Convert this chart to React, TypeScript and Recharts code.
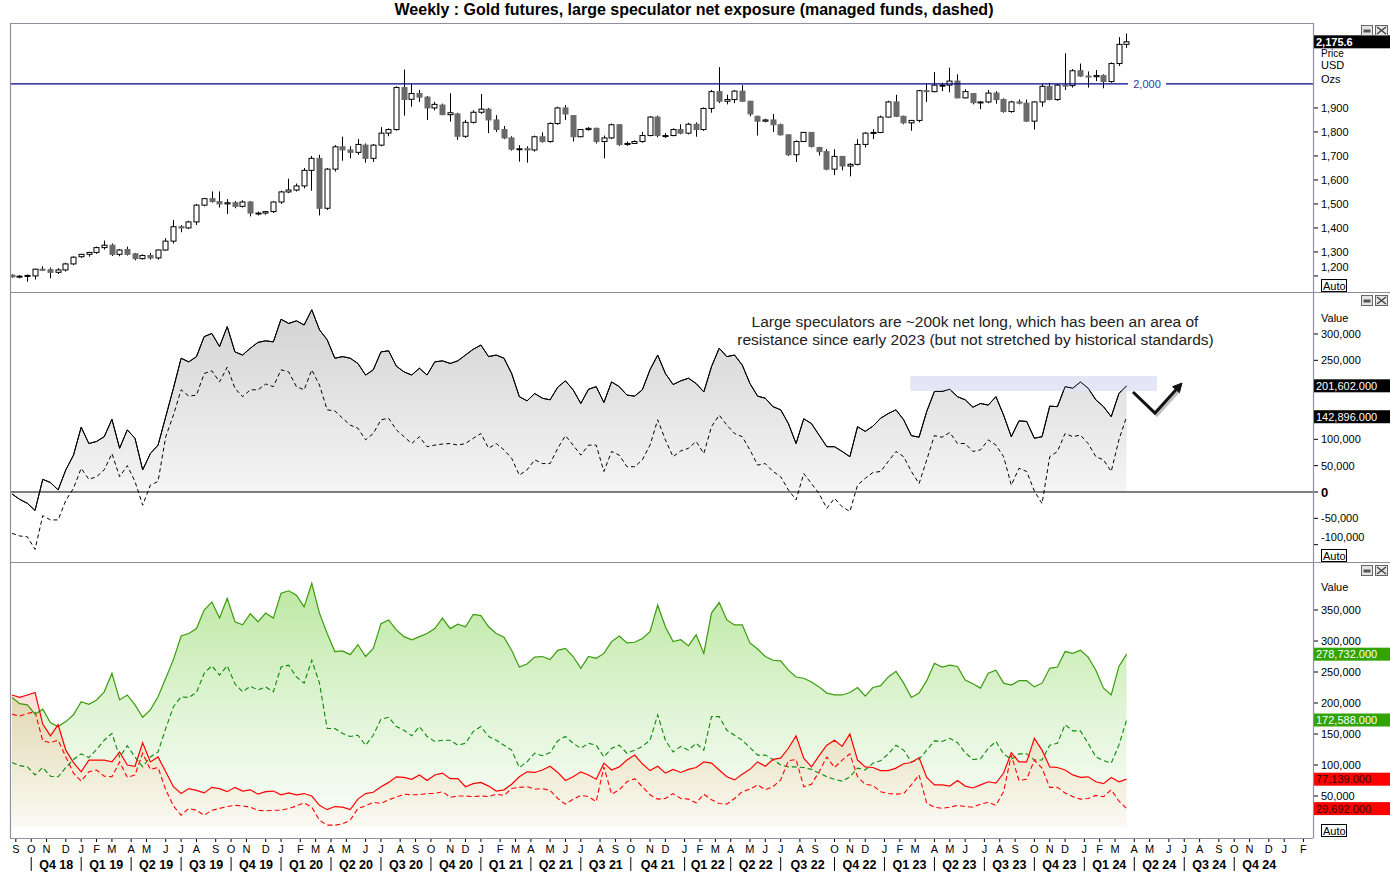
import React from 'react'
import {
  ComposedChart,
  Area,
  Line,
  Bar,
  XAxis,
  YAxis,
  ReferenceLine,
  ReferenceArea,
} from 'recharts'

const FONT = '"Liberation Sans", Arial, sans-serif'

// weekly COT bars, every 2nd week kept; bar 0 = Fri 31 Aug 2018
const STEP_WEEKS = 2

// gold futures, USD/oz (2-week candles)
const priceOpen = [
  1203, 1196, 1199, 1200, 1228, 1226, 1215, 1225, 1250, 1280,
  1290, 1298, 1318, 1328, 1290, 1310, 1292, 1272, 1285, 1275,
  1308, 1345, 1405, 1400, 1425, 1495, 1522, 1510, 1500, 1505,
  1490, 1508, 1462, 1462, 1468, 1508, 1550, 1558, 1575, 1640,
  1690, 1482, 1645, 1738, 1725, 1715, 1745, 1690, 1745, 1795,
  1810, 1985, 1936, 1960, 1945, 1900, 1912, 1872, 1875, 1782,
  1840, 1882, 1895, 1850, 1810, 1775, 1728, 1730, 1725, 1780,
  1760, 1835, 1900, 1868, 1780, 1810, 1815, 1760, 1775, 1830,
  1748, 1752, 1760, 1785, 1862, 1785, 1785, 1810, 1795, 1832,
  1810, 1898, 1968, 1928, 1935, 1970, 1928, 1865, 1845, 1850,
  1830, 1788, 1705, 1760, 1798, 1735, 1718, 1645, 1698, 1658,
  1665, 1748, 1795, 1798, 1862, 1925, 1865, 1838, 1848, 1972,
  1968, 1995, 1995, 2012, 1942, 1960, 1922, 1925, 1962, 1935,
  1885, 1925, 1920, 1845, 1925, 1990, 1935, 1995, 1993, 2055,
  2033, 2030, 2035, 2010, 2085, 2165,
]
const priceHigh = [
  1207, 1203, 1206, 1230, 1240, 1235, 1232, 1255, 1282, 1292,
  1300, 1322, 1347, 1335, 1312, 1322, 1296, 1290, 1296, 1310,
  1357, 1433, 1412, 1430, 1500, 1525, 1552, 1552, 1520, 1512,
  1515, 1512, 1468, 1470, 1512, 1555, 1605, 1585, 1650, 1700,
  1705, 1650, 1745, 1780, 1740, 1770, 1752, 1750, 1820, 1815,
  1990, 2060, 2000, 1975, 1950, 1925, 1918, 1961, 1880, 1850,
  1890, 1958, 1900, 1870, 1825, 1782, 1745, 1740, 1785, 1798,
  1840, 1905, 1912, 1870, 1812, 1820, 1818, 1785, 1835, 1832,
  1760, 1765, 1800, 1866, 1868, 1795, 1815, 1832, 1838, 1840,
  1902, 1975, 2070, 1955, 1975, 1995, 1930, 1868, 1855, 1875,
  1835, 1790, 1765, 1800, 1800, 1738, 1728, 1728, 1700, 1670,
  1770, 1800, 1812, 1868, 1930, 1955, 1868, 1850, 1975, 2000,
  2050, 2005, 2068, 2040, 1978, 1962, 1928, 1975, 1970, 1940,
  1930, 1935, 1935, 1928, 2000, 2005, 2000, 2128, 2062, 2085,
  2052, 2058, 2040, 2090, 2195, 2210,
]
const priceLow = [
  1193, 1190, 1176, 1185, 1220, 1190, 1208, 1218, 1245, 1275,
  1280, 1292, 1310, 1283, 1282, 1285, 1265, 1268, 1268, 1268,
  1305, 1335, 1382, 1395, 1412, 1490, 1505, 1485, 1458, 1482,
  1485, 1448, 1452, 1455, 1462, 1500, 1545, 1552, 1565, 1555,
  1452, 1475, 1635, 1680, 1690, 1705, 1672, 1675, 1740, 1782,
  1805, 1868, 1905, 1925, 1850, 1890, 1870, 1843, 1767, 1775,
  1835, 1875, 1795, 1800, 1770, 1722, 1676, 1672, 1718, 1755,
  1755, 1830, 1850, 1760, 1778, 1805, 1752, 1690, 1770, 1742,
  1742, 1750, 1755, 1782, 1778, 1775, 1782, 1790, 1790, 1780,
  1805, 1880, 1920, 1915, 1920, 1925, 1865, 1785, 1840, 1800,
  1785, 1700, 1675, 1758, 1735, 1702, 1640, 1620, 1640, 1615,
  1660, 1735, 1770, 1795, 1860, 1862, 1832, 1805, 1840, 1925,
  1965, 1970, 1965, 1940, 1940, 1915, 1895, 1920, 1918, 1880,
  1880, 1915, 1842, 1810, 1905, 1932, 1930, 1975, 1985, 2030,
  1985, 2012, 1982, 2005, 2075, 2150,
]
const priceClose = [
  1196, 1199, 1202, 1228, 1226, 1215, 1225, 1250, 1278, 1290,
  1298, 1318, 1328, 1290, 1308, 1290, 1272, 1285, 1275, 1308,
  1345, 1405, 1400, 1425, 1495, 1522, 1510, 1500, 1505, 1490,
  1508, 1462, 1462, 1468, 1508, 1550, 1558, 1575, 1640, 1690,
  1482, 1645, 1738, 1725, 1715, 1748, 1690, 1745, 1795, 1810,
  1985, 1935, 1960, 1945, 1900, 1915, 1872, 1880, 1782, 1840,
  1882, 1895, 1850, 1810, 1775, 1728, 1730, 1725, 1780, 1760,
  1835, 1900, 1875, 1780, 1810, 1815, 1760, 1775, 1830, 1748,
  1752, 1760, 1785, 1862, 1785, 1785, 1810, 1795, 1832, 1810,
  1898, 1968, 1928, 1935, 1970, 1928, 1875, 1845, 1850, 1830,
  1788, 1705, 1760, 1798, 1740, 1718, 1645, 1698, 1658, 1665,
  1748, 1795, 1798, 1862, 1925, 1865, 1838, 1848, 1972, 1968,
  1995, 1995, 2012, 1942, 1968, 1922, 1925, 1962, 1935, 1885,
  1925, 1920, 1845, 1925, 1990, 1935, 1995, 1993, 2055, 2033,
  2030, 2035, 2010, 2085, 2165, 2175.6,
]

// net exposure, thousands of contracts
const specNet = [
  -3.8, -14, -21.5, -35, 24, 18, 4, 42, 70, 123,
  92, 96, 105, 138, 83, 118, 102, 42, 73, 89,
  143, 197, 254, 247, 257, 295, 301, 276, 314, 266,
  260, 273, 284, 287, 285, 328, 320, 325, 317, 346,
  308, 289, 254, 257, 254, 244, 222, 232, 266, 268,
  239, 228, 222, 235, 222, 247, 249, 244, 249, 260,
  271, 279, 257, 260, 254, 225, 181, 173, 187, 178,
  175, 199, 211, 194, 168, 195, 200, 170, 209, 200,
  184, 182, 194, 232, 260, 225, 204, 211, 216, 206,
  190, 238, 273, 257, 260, 241, 206, 182, 178, 162,
  156, 130, 92, 139, 130, 108, 86, 86, 77, 67,
  124, 115, 125, 140, 149, 156, 137, 107, 104, 153,
  191, 191, 195, 181, 175, 161, 168, 165, 181, 146,
  105, 135, 134, 102, 105, 163, 162, 200, 197, 209,
  197, 175, 162, 143, 187, 201.602,
]
const mmNet = [
  -78.5, -83.5, -85, -109, -45, -53, -53, -16, 7, 45,
  24, 29, 42, 73, 29, 50, 20, -25, 13, 20,
  105, 146, 194, 182, 184, 225, 230, 209, 237, 197,
  181, 194, 194, 205, 200, 232, 228, 200, 194, 232,
  203, 156, 154, 140, 127, 121, 99, 111, 137, 140,
  118, 105, 92, 105, 86, 89, 91, 92, 89, 92,
  102, 111, 83, 92, 80, 64, 32, 42, 61, 54,
  54, 83, 107, 89, 70, 89, 89, 39, 77, 70,
  48, 48, 61, 89, 137, 99, 67, 78, 83, 96,
  73, 124, 146, 127, 111, 105, 80, 51, 54, 39,
  29, 4, -15, 35, 16, -3, -31, -12, -28, -37,
  13, 26, 37, 39, 58, 77, 67, 39, 16, 61,
  107, 104, 113, 92, 92, 77, 80, 99, 89, 67,
  13, 45, 39, 2, -22, 67, 77, 111, 105, 108,
  92, 67, 61, 39, 99, 142.896,
]

// longs / shorts, thousands of contracts
const specLong = [
  209, 199, 197, 182, 190, 168, 162, 170, 181, 202,
  198, 205, 218, 248, 205, 213, 197, 177, 189, 210,
  240, 270, 308, 312, 320, 350, 363, 337, 369, 331,
  326, 344, 331, 345, 337, 377, 381, 374, 355, 393,
  345, 312, 283, 284, 278, 294, 275, 288, 328, 334,
  318, 307, 302, 307, 312, 320, 337, 320, 327, 323,
  343, 341, 323, 312, 306, 285, 258, 263, 274, 275,
  270, 285, 288, 275, 256, 275, 272, 280, 299, 308,
  297, 298, 304, 315, 358, 323, 299, 302, 292, 310,
  280, 345, 362, 334, 326, 326, 297, 287, 275, 269,
  268, 253, 242, 240, 234, 226, 216, 213, 213, 217,
  225, 211, 225, 228, 242, 251, 232, 209, 216, 236,
  264, 258, 261, 259, 237, 231, 224, 248, 253, 232,
  229, 236, 236, 226, 232, 256, 258, 283, 280, 285,
  274, 253, 224, 213, 259, 278.732,
]
const mmLong = [
  104, 99, 97, 84, 96, 82, 81, 96, 109, 118,
  112, 125, 140, 151, 113, 131, 113, 97, 113, 121,
  159, 194, 210, 209, 217, 248, 260, 245, 260, 231,
  218, 227, 221, 226, 218, 258, 261, 242, 232, 269,
  232, 159, 159, 151, 146, 148, 132, 148, 174, 177,
  162, 156, 147, 162, 146, 138, 140, 140, 132, 135,
  154, 162, 146, 140, 132, 124, 96, 105, 119, 115,
  120, 139, 146, 135, 127, 135, 132, 113, 127, 132,
  119, 124, 130, 140, 181, 140, 121, 130, 124, 135,
  124, 178, 178, 156, 148, 140, 128, 116, 116, 109,
  100, 97, 97, 96, 93, 87, 81, 77, 74, 81,
  95, 92, 103, 107, 118, 132, 124, 105, 109, 124,
  139, 138, 143, 136, 120, 109, 110, 127, 138, 118,
  109, 118, 118, 108, 108, 132, 135, 165, 155, 155,
  135, 113, 107, 103, 132, 172.588,
]
const specShort = [
  213, 209, 213, 217, 166, 147, 165, 124, 104, 89,
  108, 108, 108, 105, 121, 100, 98, 136, 105, 113,
  89, 65, 54, 62, 59, 55, 64, 62, 57, 64,
  58, 60, 53, 57, 58, 52, 55, 52, 54, 50,
  35, 28, 33, 32, 28, 45, 54, 56, 65, 72,
  81, 80, 77, 84, 75, 84, 87, 78, 78, 65,
  70, 72, 66, 58, 60, 69, 81, 89, 88, 92,
  98, 88, 75, 81, 89, 84, 77, 103, 92, 97,
  108, 116, 102, 91, 98, 87, 93, 88, 93, 96,
  105, 103, 92, 81, 76, 85, 93, 105, 98, 109,
  111, 127, 147, 111, 97, 115, 132, 140, 130, 150,
  108, 97, 96, 91, 91, 95, 102, 104, 112, 80,
  68, 68, 66, 75, 66, 63, 68, 73, 71, 87,
  120, 105, 105, 143, 124, 97, 96, 92, 84, 80,
  81, 73, 70, 80, 73, 77.139,
]
const mmShort = [
  182, 179, 183, 186, 139, 136, 140, 113, 87, 74,
  89, 92, 82, 81, 105, 80, 84, 119, 93, 96,
  60, 34, 19, 30, 27, 19, 27, 30, 33, 35,
  34, 32, 27, 26, 27, 27, 30, 34, 39, 32,
  11, 3, 3, 5, 11, 30, 34, 40, 38, 44,
  48, 53, 52, 52, 54, 54, 57, 48, 50, 50,
  49, 50, 49, 53, 51, 62, 64, 65, 61, 62,
  59, 46, 37, 45, 51, 49, 41, 97, 53, 60,
  73, 78, 65, 52, 45, 46, 54, 46, 45, 39,
  53, 44, 38, 37, 46, 57, 61, 68, 60, 65,
  76, 107, 109, 65, 69, 89, 113, 96, 108, 118,
  81, 69, 67, 57, 54, 53, 54, 68, 84, 38,
  32, 30, 32, 35, 33, 32, 37, 40, 35, 57,
  116, 75, 77, 108, 95, 64, 64, 55, 49, 45,
  46, 51, 49, 60, 42, 29.692,
]

const priceTicks = [1200, 1300, 1400, 1500, 1600, 1700, 1800, 1900]
const netTicks = [-100, -50, 0, 50, 100, 250, 300]
const lsTicks = [50, 100, 150, 200, 250, 300, 350]
const monthLetters = 'SONDJFMAMJJASONDJFMAMJJASONDJFMAMJJASONDJFMAMJJASONDJFMAMJJASONDJFMAMJJASONDJF'.split('')
const quarterLabels = [
  'Q4 18', 'Q1 19', 'Q2 19', 'Q3 19', 'Q4 19', 'Q1 20', 'Q2 20', 'Q3 20', 'Q4 20',
  'Q1 21', 'Q2 21', 'Q3 21', 'Q4 21', 'Q1 22', 'Q2 22', 'Q3 22', 'Q4 22',
  'Q1 23', 'Q2 23', 'Q3 23', 'Q4 23', 'Q1 24', 'Q2 24', 'Q3 24', 'Q4 24',
]

// x axis is in weeks since the first bar
const X_DOMAIN: [number, number] = [-0.52, 338.5]
const BASE = Date.UTC(2018, 7, 31)
const WEEK = 7 * 86400000
const firstBarOfMonth = (k: number) => {
  const y = 2018 + Math.floor((8 + k) / 12)
  const m = (8 + k) % 12
  return Math.ceil((Date.UTC(y, m, 1) - BASE) / WEEK)
}
const monthTicks = monthLetters.map((_, k) => firstBarOfMonth(k))
const monthLabel = new Map(monthTicks.map((w, k) => [w, monthLetters[k]]))
// quarter k starts at month index 1 + 3k (Oct 2018 = 1)
const quarterStarts = quarterLabels.map((_, k) => firstBarOfMonth(1 + 3 * k))
const quarterCenters = quarterLabels.map((_, k) => (firstBarOfMonth(1 + 3 * k) + firstBarOfMonth(4 + 3 * k)) / 2)
const quarterLabel = new Map(quarterCenters.map((w, k) => [w, quarterLabels[k]]))

const weeks = priceOpen.map((_, i) => i * STEP_WEEKS)
const priceRows = weeks.map((w, i) => ({
  w,
  open: priceOpen[i],
  high: priceHigh[i],
  low: priceLow[i],
  close: priceClose[i],
}))
const netRows = weeks.map((w, i) => ({ w, spec: specNet[i], mm: mmNet[i] }))
const lsRows = weeks.map((w, i) => ({
  w,
  sl: specLong[i],
  ml: mmLong[i],
  ss: specShort[i],
  ms: mmShort[i],
}))

const last = (a: number[]) => a[a.length - 1]
const fmtInt = (v: number) => Math.round(v).toLocaleString('en-US')
const fmtK = (v: number) => Math.round(v * 1000).toLocaleString('en-US')
const fmtK3 = (v: number) =>
  (v * 1000).toLocaleString('en-US', { minimumFractionDigits: 3, maximumFractionDigits: 3 })

const Candle = (p: any) => {
  const { x, y, width, height, payload } = p
  if (!payload || height == null) return null
  const { open, close, high, low } = payload
  const k = height / (high - low || 1)
  const yOf = (v: number) => y + (high - v) * k
  const cx = Math.round(x + width / 2) + 0.5
  const up = close >= open
  const top = yOf(Math.max(open, close))
  const bot = yOf(Math.min(open, close))
  return (
    <g>
      <line x1={cx} x2={cx} y1={y} y2={y + height} stroke="#000" strokeWidth={1} />
      <rect
        x={cx - 2.5}
        y={top}
        width={5}
        height={Math.max(1, bot - top)}
        fill={up ? '#fff' : '#6a6a6a'}
        stroke={up ? '#000' : '#6a6a6a'}
        strokeWidth={1}
      />
    </g>
  )
}

const makeYTick = (fmt: (v: number) => string, shift: Record<number, number>) => (p: any) => {
  const { x, y, payload } = p
  const v = payload.value
  const zero = v === 0
  return (
    <g>
      <line x1={x} x2={x + 5} y1={y} y2={y} stroke="#000" />
      <text
        x={x + 8}
        y={y + (shift[v] ?? 0) + (zero ? 5 : 4)}
        fontSize={zero ? 13 : 11}
        fontWeight={zero ? 'bold' : 'normal'}
        fill="#000"
        fontFamily={FONT}
      >
        {fmt(v)}
      </text>
    </g>
  )
}

const MonthTick = (p: any) => {
  const { x, y, payload } = p
  return (
    <g>
      <line x1={x} x2={x} y1={y + 1} y2={y + 4} stroke="#000" />
      <text x={x} y={y + 15} textAnchor="middle" fontSize={11} fill="#000" fontFamily={FONT}>
        {monthLabel.get(payload.value)}
      </text>
    </g>
  )
}

const QuarterTick = (p: any) => {
  const { x, y, payload } = p
  const label = quarterLabel.get(payload.value)
  if (label) {
    return (
      <text x={x} y={y + 14} textAnchor="middle" fontSize={12.5} fontWeight="bold" fill="#000" fontFamily={FONT}>
        {label}
      </text>
    )
  }
  return <line x1={x} x2={x} y1={y + 2} y2={y + 16} stroke="#000" />
}

const valueBox = (text: string, bg: string, fg: string, bold = false) => (p: any) => {
  const vb = p.viewBox
  if (!vb) return null
  const x = vb.x + vb.width
  const y = vb.y
  return (
    <g>
      <rect x={x + 1} y={y - 6.5} width={77} height={13} fill={bg} />
      <text x={x + 3} y={y + 4} fontSize={11} fontWeight={bold ? 'bold' : 'normal'} fill={fg} fontFamily={FONT}>
        {text}
      </text>
    </g>
  )
}

const levelLabel = (p: any) => {
  const vb = p.viewBox
  if (!vb) return null
  const cx = vb.x + 1137
  return (
    <g>
      <rect x={cx - 19} y={vb.y - 7} width={38} height={14} fill="#fff" />
      <text x={cx} y={vb.y + 4} textAnchor="middle" fontSize={11} fill="#2b3a9e" fontFamily={FONT}>
        2,000
      </text>
    </g>
  )
}

const W = 1390
const AXIS_W = 77
const chartMargin = { top: 0, right: 0, bottom: 0, left: 10 }
const FRAME = '#8f8fa0'

const PanelIcons = ({ y }: { y: number }) => (
  <g>
    <rect x={1361.5} y={y + 2.5} width={11} height={10} fill="#e4e4e4" stroke="#666" />
    <rect x={1363.5} y={y + 6.5} width={7} height={3} fill="#555" />
    <rect x={1375.5} y={y + 2.5} width={12} height={10} fill="#e4e4e4" stroke="#666" />
    <line x1={1377} y1={y + 4} x2={1386} y2={y + 11} stroke="#444" strokeWidth={1.5} />
    <line x1={1386} y1={y + 4} x2={1377} y2={y + 11} stroke="#444" strokeWidth={1.5} />
  </g>
)

const AutoBox = ({ y }: { y: number }) => (
  <g>
    <rect x={1321.5} y={y + 0.5} width={25} height={12} fill="#fff" stroke="#000" />
    <text x={1323} y={y + 10.5} fontSize={11} fill="#000" fontFamily={FONT}>
      Auto
    </text>
  </g>
)

export default function App() {
  return (
    <div style={{ position: 'relative', width: W, height: 873, background: '#fff', fontFamily: FONT }}>
      <style>{'body{margin:0}'}</style>
      <svg width={0} height={0} style={{ position: 'absolute' }}>
        <defs>
          <linearGradient id="netFill" x1="0" y1="0" x2="0" y2="1">
            <stop offset="0%" stopColor="#d3d3d3" />
            <stop offset="100%" stopColor="#f8f8f8" />
          </linearGradient>
          <linearGradient id="longFill" x1="0" y1="0" x2="0" y2="1">
            <stop offset="0%" stopColor="#bde8a2" />
            <stop offset="55%" stopColor="#e2f5d8" />
            <stop offset="100%" stopColor="#fbfefb" />
          </linearGradient>
          <linearGradient id="shortFill" x1="0" y1="0" x2="0" y2="1">
            <stop offset="0%" stopColor="#ff2a00" stopOpacity={0.15} />
            <stop offset="100%" stopColor="#ff6a00" stopOpacity={0.03} />
          </linearGradient>
        </defs>
      </svg>

      {/* side labels of the right axes */}
      <svg width={W} height={873} style={{ position: 'absolute', left: 0, top: 0 }}>
        <g fontFamily={FONT} fontSize={11} fill="#000">
          <text x={1321} y={57} fontSize={10}>Price</text>
          <text x={1321} y={69}>USD</text>
          <text x={1321} y={83}>Ozs</text>
          <text x={1321} y={322}>Value</text>
          <text x={1321} y={591}>Value</text>
        </g>
      </svg>

      {/* price panel */}
      <div style={{ position: 'absolute', left: 0, top: 23 }}>
        <ComposedChart width={W} height={269} data={priceRows} margin={chartMargin}>
          <XAxis dataKey="w" type="number" domain={X_DOMAIN} allowDataOverflow ticks={weeks} hide />
          <YAxis
            orientation="right"
            width={AXIS_W}
            type="number"
            domain={[1133, 2254]}
            allowDataOverflow
            ticks={priceTicks}
            interval={0}
            tickLine={false}
            tickSize={0}
            tickMargin={0}
            axisLine={false}
            tick={makeYTick(fmtInt, { 1200: -9 })}
          />
          <ReferenceLine y={2000} stroke="#00008c" strokeWidth={1.2} label={levelLabel} />
          <Bar
            dataKey={(d: any) => [d.low, d.high]}
            barSize={5}
            shape={Candle}
            isAnimationActive={false}
          />
          <ReferenceLine
            y={last(priceClose)}
            stroke="none"
            label={valueBox(last(priceClose).toLocaleString('en-US'), '#000', '#fff', true)}
          />
        </ComposedChart>
      </div>

      {/* net exposure panel */}
      <div style={{ position: 'absolute', left: 0, top: 293 }}>
        <ComposedChart width={W} height={269} data={netRows} margin={chartMargin}>
          <XAxis dataKey="w" type="number" domain={X_DOMAIN} allowDataOverflow hide />
          <YAxis
            orientation="right"
            width={AXIS_W}
            type="number"
            domain={[-132.9, 377.8]}
            allowDataOverflow
            ticks={netTicks}
            interval={0}
            tickLine={false}
            tickSize={0}
            tickMargin={0}
            axisLine={false}
            tick={makeYTick(fmtK, { [-100]: -8 })}
          />
          <Area
            dataKey="spec"
            type="linear"
            baseValue={0}
            stroke="#000"
            strokeWidth={1}
            fill="url(#netFill)"
            fillOpacity={1}
            dot={false}
            activeDot={false}
            isAnimationActive={false}
          />
          <ReferenceArea x1={233.7} x2={297.9} y1={191.8} y2={220.2} fill="#dfe2f4" fillOpacity={0.85} stroke="none" />
          <Line
            dataKey="mm"
            type="linear"
            stroke="#000"
            strokeWidth={1}
            strokeDasharray="4 3"
            dot={false}
            activeDot={false}
            isAnimationActive={false}
          />
          <Line
            dataKey="spec"
            type="linear"
            stroke="#000"
            strokeWidth={1}
            dot={false}
            activeDot={false}
            isAnimationActive={false}
          />
          <ReferenceLine y={0} stroke="#000" strokeWidth={1} />
          <ReferenceLine y={last(specNet)} stroke="none" label={valueBox(fmtK3(last(specNet)), '#000', '#fff')} />
          <ReferenceLine y={last(mmNet)} stroke="none" label={valueBox(fmtK3(last(mmNet)), '#000', '#fff')} />
        </ComposedChart>
      </div>

      {/* longs / shorts panel with the date axis */}
      <div style={{ position: 'absolute', left: 0, top: 563 }}>
        <ComposedChart width={W} height={310} data={lsRows} margin={chartMargin}>
          <XAxis
            dataKey="w"
            type="number"
            domain={X_DOMAIN}
            allowDataOverflow
            ticks={monthTicks}
            interval={0}
            height={17}
            axisLine={false}
            tickLine={false}
            tickSize={0}
            tickMargin={0}
            tick={MonthTick}
          />
          <XAxis
            xAxisId="q"
            dataKey="w"
            type="number"
            domain={X_DOMAIN}
            allowDataOverflow
            ticks={[...quarterStarts, ...quarterCenters]}
            interval={0}
            height={18}
            axisLine={false}
            tickLine={false}
            tickSize={0}
            tickMargin={0}
            tick={QuarterTick}
          />
          <YAxis
            orientation="right"
            width={AXIS_W}
            type="number"
            domain={[-17.7, 425.8]}
            allowDataOverflow
            ticks={lsTicks}
            interval={0}
            tickLine={false}
            tickSize={0}
            tickMargin={0}
            axisLine={false}
            tick={makeYTick(fmtK, {})}
          />
          <Area
            dataKey="sl"
            type="linear"
            baseValue={0}
            stroke="none"
            fill="url(#longFill)"
            fillOpacity={1}
            dot={false}
            activeDot={false}
            isAnimationActive={false}
          />
          <Area
            dataKey="ss"
            type="linear"
            baseValue={0}
            stroke="none"
            fill="url(#shortFill)"
            fillOpacity={1}
            dot={false}
            activeDot={false}
            isAnimationActive={false}
          />
          <Line dataKey="ml" type="linear" stroke="#0a8a0a" strokeWidth={1.1} strokeDasharray="5 3" dot={false} activeDot={false} isAnimationActive={false} />
          <Line dataKey="ms" type="linear" stroke="#ff0000" strokeWidth={1.1} strokeDasharray="5 3" dot={false} activeDot={false} isAnimationActive={false} />
          <Line dataKey="sl" type="linear" stroke="#3a9c0c" strokeWidth={1.2} dot={false} activeDot={false} isAnimationActive={false} />
          <Line dataKey="ss" type="linear" stroke="#ff0000" strokeWidth={1.2} dot={false} activeDot={false} isAnimationActive={false} />
          <ReferenceLine y={last(specLong)} stroke="none" label={valueBox(fmtK3(last(specLong)), '#33a300', '#fff')} />
          <ReferenceLine y={last(mmLong)} stroke="none" label={valueBox(fmtK3(last(mmLong)), '#33a300', '#fff')} />
          <ReferenceLine y={last(specShort)} stroke="none" label={valueBox(fmtK3(last(specShort)), '#ff0000', '#3a0000')} />
          <ReferenceLine y={last(mmShort)} stroke="none" label={valueBox(fmtK3(last(mmShort)), '#ff0000', '#3a0000')} />
        </ComposedChart>
      </div>

      {/* frames, title, notes */}
      <svg width={W} height={873} style={{ position: 'absolute', left: 0, top: 0, pointerEvents: 'none' }}>
        <g stroke={FRAME} strokeWidth={1.2} fill="none">
          <line x1={10.5} y1={23} x2={10.5} y2={838} />
          <line x1={10} y1={23.5} x2={1313} y2={23.5} />
          <line x1={10} y1={292.5} x2={W} y2={292.5} />
          <line x1={10} y1={562.5} x2={W} y2={562.5} />
          <line x1={10} y1={838.5} x2={1313} y2={838.5} />
          <line x1={1313.5} y1={23} x2={1313.5} y2={838} />
        </g>
        <text x={694} y={15} textAnchor="middle" fontSize={16} fontWeight="bold" fill="#000" fontFamily={FONT}>
          Weekly : Gold futures, large speculator net exposure (managed funds, dashed)
        </text>
        <g fontFamily={FONT} fontSize={15.5} fill="#222" textAnchor="middle">
          <text x={975} y={327}>Large speculators are ~200k net long, which has been an area of</text>
          <text x={975.5} y={345}>resistance since early 2023 (but not stretched by historical standards)</text>
        </g>
        <g>
          <polyline points="1135,394 1157,415 1178,392" fill="none" stroke="rgba(0,0,0,0.25)" strokeWidth={3} />
          <polyline points="1133,392 1155,413 1176,389.7" fill="none" stroke="#111" strokeWidth={3} />
          <polygon points="1182,383 1179.4,392.7 1172.6,386.7" fill="#111" stroke="#111" strokeWidth={1} />
        </g>
        <PanelIcons y={23} />
        <PanelIcons y={293} />
        <PanelIcons y={563} />
        <AutoBox y={279} />
        <AutoBox y={549} />
        <AutoBox y={824} />
      </svg>
    </div>
  )
}
